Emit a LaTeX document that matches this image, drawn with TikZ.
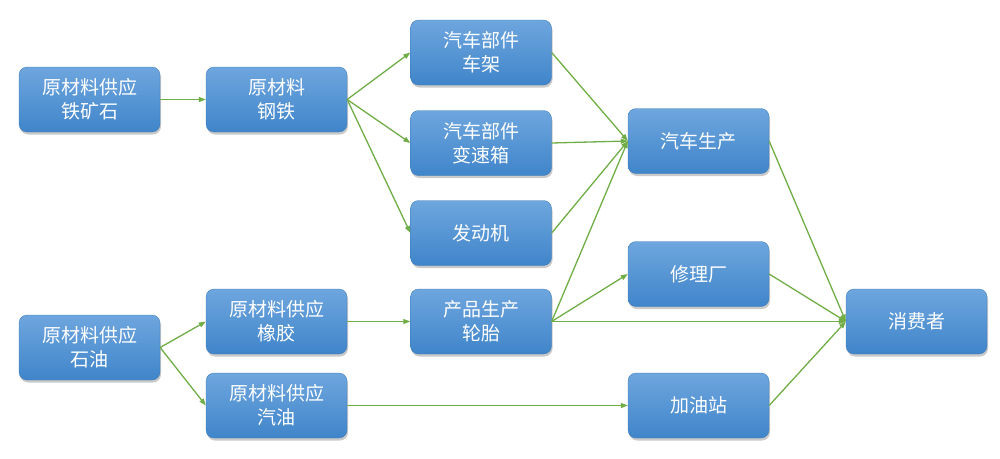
\documentclass[tikz,border=0pt]{standalone}
\usepackage{fontspec}
\setmainfont{Noto Sans CJK SC}
\usetikzlibrary{shadows,arrows.meta}
\definecolor{boxtop}{RGB}{110,166,222}
\definecolor{boxbot}{RGB}{64,133,202}
\definecolor{edgegreen}{RGB}{112,173,71}
\tikzset{
  box/.style={rounded corners=8pt, minimum width=141pt, minimum height=65pt,
    top color=boxtop, bottom color=boxbot, draw=boxbot!90!black, line width=0.3pt,
    text=white, font=\fontsize{19}{24}\selectfont, align=center, inner sep=0pt,
    drop shadow={shadow xshift=1pt, shadow yshift=-2.5pt, opacity=0.35, fill=black!60}},
  link/.style={draw=edgegreen, line width=1.3pt, -{Triangle[length=7pt,width=5pt]}}
}
\begin{document}
\begin{tikzpicture}[x=1pt,y=-1pt]
\useasboundingbox (0,0) rectangle (1000,458);
\node[box] (ore) at (89.5,99.5) {原材料供应\\铁矿石};
\node[box] (steel) at (276.5,99.5) {原材料\\钢铁};
\node[box] (frame) at (481,52.5) {汽车部件\\车架};
\node[box] (gear) at (481,143) {汽车部件\\变速箱};
\node[box] (engine) at (481,233) {发动机};
\node[box] (car) at (698.5,141) {汽车生产};
\node[box] (repair) at (698.5,274) {修理厂};
\node[box] (consumer) at (916.5,321.5) {消费者};
\node[box] (oil) at (89.5,347.5) {原材料供应\\石油};
\node[box] (rubber) at (276.5,321.5) {原材料供应\\橡胶};
\node[box] (tire) at (481,321.5) {产品生产\\轮胎};
\node[box] (petrol) at (276.5,405.5) {原材料供应\\汽油};
\node[box] (station) at (698.5,405.5) {加油站};

\draw[link] (ore.east) -- (steel.west);
\draw[link] (steel.east) -- (frame.west);
\draw[link] (steel.east) -- (gear.west);
\draw[link] (steel.east) -- (engine.west);
\draw[link] (frame.east) -- (car.west);
\draw[link] (gear.east) -- (car.west);
\draw[link] (engine.east) -- (car.west);
\draw[link] (tire.east) -- (car.west);
\draw[link] (tire.east) -- (repair.west);
\draw[link] (tire.east) -- (consumer.west);
\draw[link] (car.east) -- (consumer.west);
\draw[link] (repair.east) -- (consumer.west);
\draw[link] (station.east) -- (consumer.west);
\draw[link] (oil.east) -- (rubber.west);
\draw[link] (oil.east) -- (petrol.west);
\draw[link] (rubber.east) -- (tire.west);
\draw[link] (petrol.east) -- (station.west);
\end{tikzpicture}
\end{document}
